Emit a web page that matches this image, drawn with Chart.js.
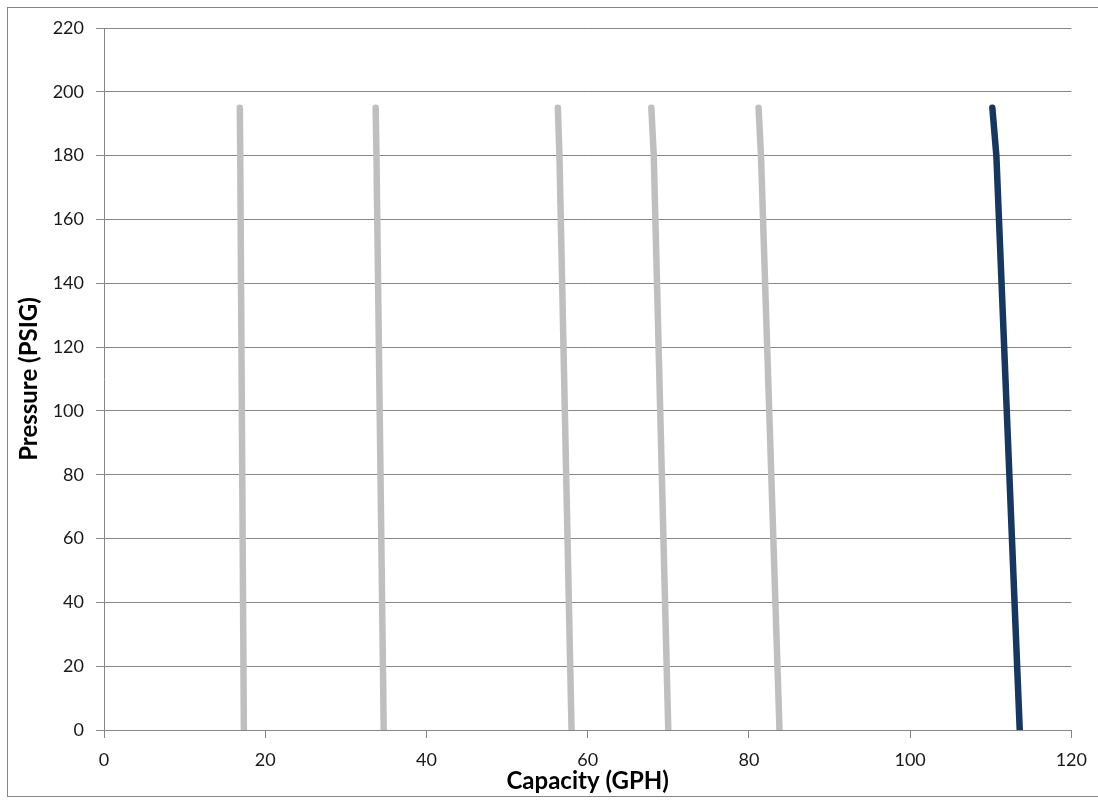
<!DOCTYPE html>
<html>
<head>
<meta charset="utf-8">
<script src="https://cdn.jsdelivr.net/npm/chart.js@4.4.1/dist/chart.umd.min.js"></script>
<style>
	html, body { margin: 0; padding: 0; background: #fff; }
	#wrap { position: relative; width: 1098px; height: 800px; }
	#frame {
		position: absolute; left: 7px; top: 7px; width: 1095px; height: 790px;
		border: 1px solid #868686; box-sizing: border-box;
	}
	canvas { position: absolute; left: 0; top: 0; }
</style>
</head>
<body>
<div id="wrap">
	<div id="frame"></div>
	<canvas id="pumpChart" width="1098" height="800"></canvas>
</div>
<script>
// pressure points along each curve (PSIG)
const pressure = [195, 180, 0];

// capacity (GPH) at each pressure, one curve per setting
const curve1 = [16.85, 16.9, 17.35];
const curve2 = [33.7, 33.8, 34.7];
const curve3 = [56.3, 56.5, 58.0];
const curve4 = [67.9, 68.2, 70.0];
const curve5 = [81.2, 81.5, 83.8];
const curveMax = [110.2, 110.7, 113.6];

const yTicks = [0, 20, 40, 60, 80, 100, 120, 140, 160, 180, 200, 220];
const xTicks = [0, 20, 40, 60, 80, 100, 120];

const grey = "#bfbfbf";
const navy = "#17375e";
const gridColor = "#868686";

function toPoints(capacity) {
	return capacity.map((c, i) => ({ x: c, y: pressure[i] }));
}

function curve(capacity, color) {
	return {
		data: toPoints(capacity),
		showLine: true,
		borderColor: color,
		backgroundColor: color,
		borderWidth: 6.5,
		borderCapStyle: "round",
		borderJoinStyle: "round",
		pointRadius: 0,
		tension: 0,
	};
}

Chart.defaults.font.family = "Lato, 'Open Sans', sans-serif";
Chart.defaults.color = "#1a1a1a";

new Chart(document.getElementById("pumpChart"), {
	type: "scatter",
	data: {
		datasets: [
			curve(curve1, grey),
			curve(curve2, grey),
			curve(curve3, grey),
			curve(curve4, grey),
			curve(curve5, grey),
			curve(curveMax, navy),
		],
	},
	options: {
		responsive: false,
		animation: false,
		layout: { padding: { left: 0, right: 26, top: 28, bottom: 0 } },
		plugins: { legend: { display: false }, tooltip: { enabled: false } },
		scales: {
			x: {
				type: "linear",
				min: 0,
				max: 120,
				afterBuildTicks: (scale) => {
					scale.ticks = xTicks.map((v) => ({ value: v }));
				},
				afterFit: (scale) => {
					scale.height = 70;
				},
				grid: {
					drawOnChartArea: false,
					drawTicks: true,
					tickLength: 8,
					color: gridColor,
				},
				border: { color: gridColor },
				ticks: { font: { size: 18 }, padding: 11, maxRotation: 0 },
				title: {
					display: true,
					text: "Capacity (GPH)",
					font: { size: 24, weight: "bold" },
					color: "#000",
					padding: { top: 0, bottom: 4 },
				},
			},
			y: {
				type: "linear",
				min: 0,
				max: 220,
				afterBuildTicks: (scale) => {
					scale.ticks = yTicks.map((v) => ({ value: v }));
				},
				afterFit: (scale) => {
					scale.width = 104;
				},
				grid: {
					color: gridColor,
					tickLength: 8,
				},
				border: { color: gridColor },
				ticks: { font: { size: 18 }, padding: 12 },
				title: {
					display: true,
					text: "Pressure (PSIG)",
					font: { size: 24, weight: "bold" },
					color: "#000",
					padding: { top: 15, bottom: 0 },
				},
			},
		},
	},
});
</script>
</body>
</html>
